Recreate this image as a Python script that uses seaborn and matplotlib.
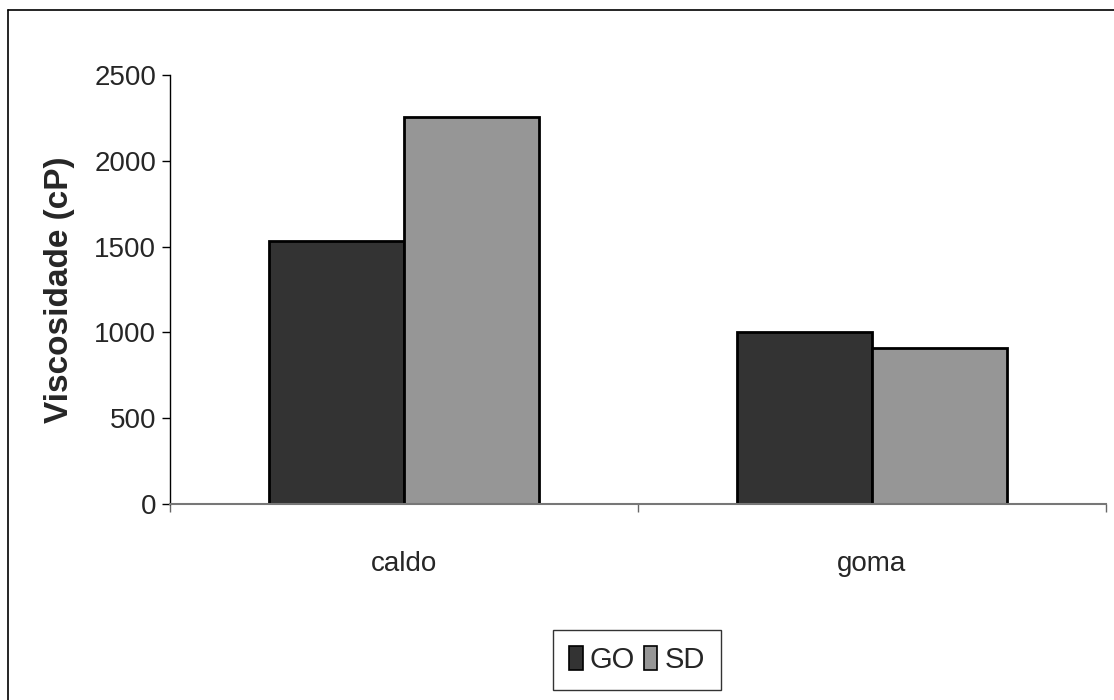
import matplotlib
matplotlib.use("Agg")
import matplotlib.pyplot as plt
import seaborn as sns
import pandas as pd
from matplotlib.lines import Line2D
from matplotlib.ticker import FixedLocator

categories = ["caldo", "goma"]
series = ["GO", "SD"]
go_values = [1535, 1000]
sd_values = [2255, 910]
colors = ["#333333", "#969696"]

rows = []
for c, g, s in zip(categories, go_values, sd_values):
    rows.append({"cat": c, "serie": "GO", "val": g})
    rows.append({"cat": c, "serie": "SD", "val": s})
df = pd.DataFrame(rows)

sns.set_theme(style="white")
plt.rcParams['font.family'] = ['Liberation Sans Narrow', 'Liberation Sans', 'DejaVu Sans']

W, H = 1114, 700
fig = plt.figure(figsize=(W / 100, H / 100), dpi=100)
ax = fig.add_axes([170 / W, 1 - 504 / H, (1106 - 170) / W, (504 - 75) / H])

sns.barplot(data=df, x="cat", y="val", hue="serie", order=categories,
            hue_order=series, palette=colors, width=0.577, saturation=1,
            edgecolor="black", linewidth=2, ax=ax, legend=False)

ax.set_xlim(-0.5, 1.5)
ax.set_ylim(0, 2500)
ax.set_yticks([0, 500, 1000, 1500, 2000, 2500])
ax.tick_params(axis="y", labelsize=20, length=6, width=1, color="black", direction="out", left=True, pad=4)
ax.xaxis.set_major_locator(FixedLocator([-0.5, 0.5, 1.5]))
ax.set_xticklabels(["", "", ""])
ax.xaxis.set_minor_locator(FixedLocator([0, 1]))
ax.set_xticklabels(categories, minor=True)
ax.tick_params(axis="x", which="major", length=6, width=1, color="#666666", direction="out", bottom=True)
ax.tick_params(axis="x", which="minor", length=0, labelsize=20, pad=34)

for side in ["top", "right"]:
    ax.spines[side].set_visible(False)
ax.spines["left"].set_color("black")
ax.spines["left"].set_linewidth(1)
ax.spines["bottom"].set_color("#777777")
ax.spines["bottom"].set_linewidth(1.5)

ax.set_xlabel("")
ax.set_ylabel("Viscosidade (cP)", fontsize=24, fontweight="bold",
              family=['Liberation Sans', 'DejaVu Sans'], labelpad=14)

handles = [plt.Rectangle((0, 0), 1, 1, facecolor=c, edgecolor="black", linewidth=1.2) for c in colors]
leg = fig.legend(handles, series, loc="center", bbox_to_anchor=(637 / W, 1 - 660 / H),
                 ncol=2, fontsize=21, frameon=True, fancybox=False,
                 handlelength=0.45, handleheight=0.9, handletextpad=0.25,
                 columnspacing=0.3, borderpad=0.55)
leg.get_frame().set_edgecolor("black")
leg.get_frame().set_linewidth(1)

fig.add_artist(Line2D([8 / W, 8 / W], [1 - 10 / H, 0], color="black", linewidth=1.2, transform=fig.transFigure))
fig.add_artist(Line2D([8 / W, 1], [1 - 10 / H, 1 - 10 / H], color="black", linewidth=1.2, transform=fig.transFigure))

fig.savefig("out.png", dpi=100)
